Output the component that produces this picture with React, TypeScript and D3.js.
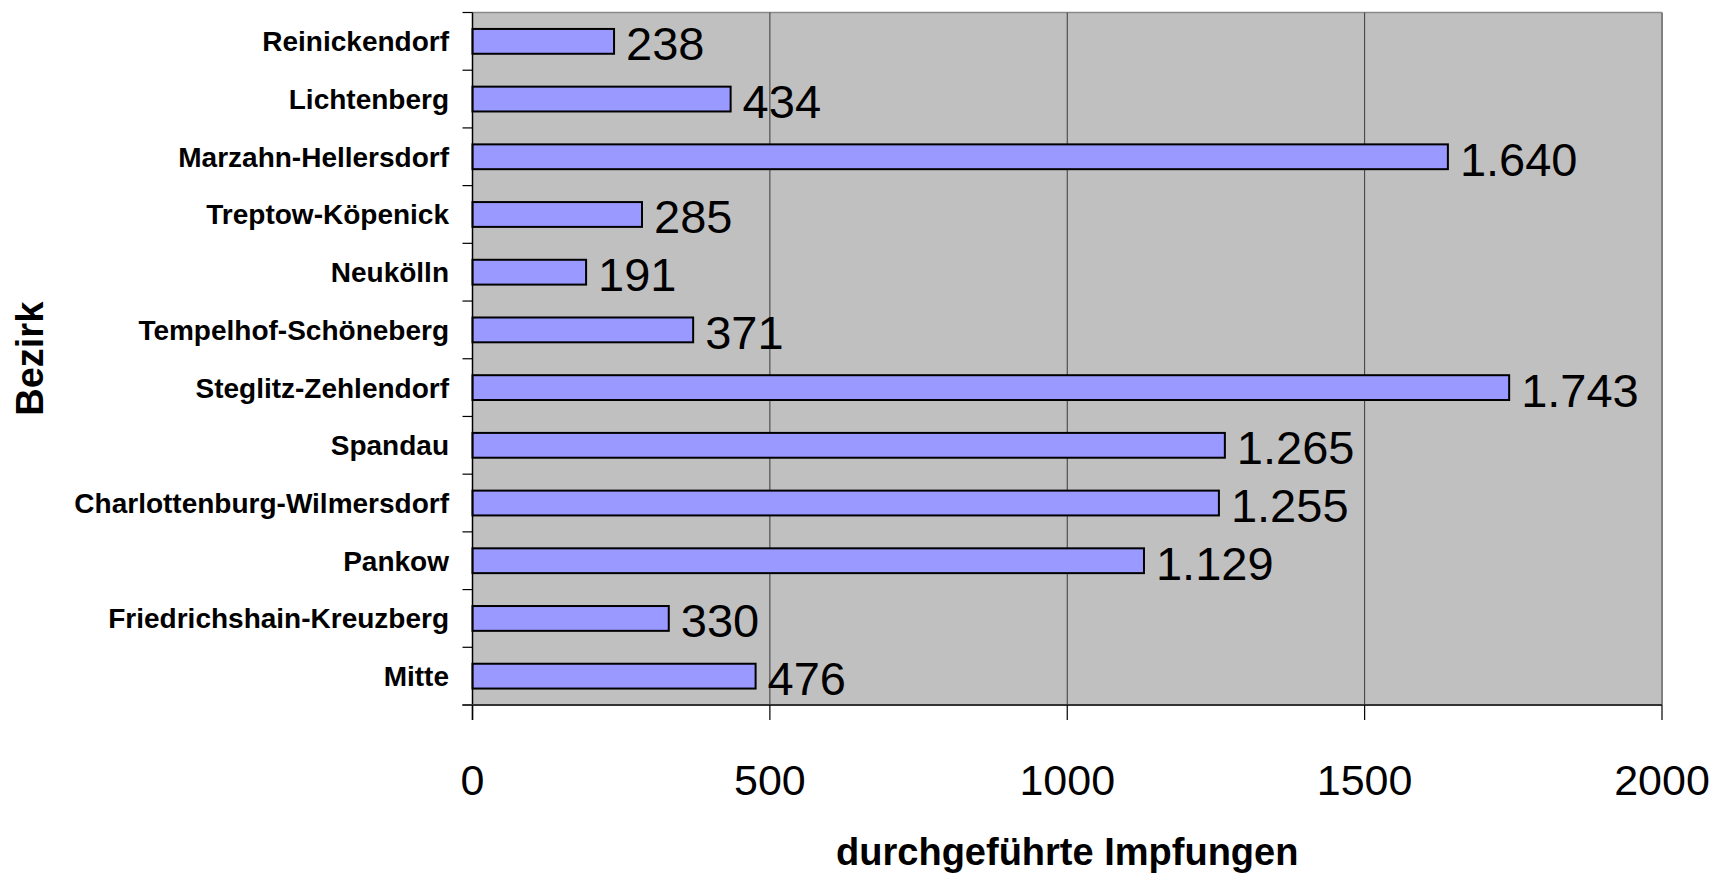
import React from "react";
import * as d3 from "d3";

const categories = [
  "Reinickendorf",
  "Lichtenberg",
  "Marzahn-Hellersdorf",
  "Treptow-Köpenick",
  "Neukölln",
  "Tempelhof-Schöneberg",
  "Steglitz-Zehlendorf",
  "Spandau",
  "Charlottenburg-Wilmersdorf",
  "Pankow",
  "Friedrichshain-Kreuzberg",
  "Mitte",
];
const values = [238, 434, 1640, 285, 191, 371, 1743, 1265, 1255, 1129, 330, 476];
const xTicks = [0, 500, 1000, 1500, 2000];
const xTitle = "durchgeführte Impfungen";
const yTitle = "Bezirk";

const W = 1715;
const H = 875;
const FONT = "'Liberation Sans', Arial, Helvetica, sans-serif";

const fmt = (v: number) => d3.format(",")(v).replace(/,/g, ".");

export default function App() {
  const left = 472.5;
  const right = 1662;
  const top = 12.5;
  const bottom = 705;

  const x = d3.scaleLinear().domain([0, 2000]).range([left, right]);
  const y = d3.scaleBand<string>().domain(categories).range([top, bottom]).padding(0);
  const bw = y.bandwidth();
  const barH = bw * 0.43;

  return (
    <svg
      width={W}
      height={H}
      style={{ position: "absolute", left: 0, top: 0, background: "#fff" }}
      fontFamily={FONT}
    >
      {/* plot area */}
      <rect x={left} y={top} width={right - left} height={bottom - top} fill="#C0C0C0" />
      {/* top border */}
      <line x1={left} x2={right} y1={top} y2={top} stroke="#8a8a8a" strokeWidth={1.5} />
      {/* right border */}
      <line x1={right} x2={right} y1={top} y2={bottom} stroke="#808080" strokeWidth={2} />
      {/* gridlines */}
      {xTicks
        .filter((t) => t > 0 && t < 2000)
        .map((t) => (
          <line key={"g" + t} x1={x(t)} x2={x(t)} y1={top} y2={bottom} stroke="#3a3a3a" strokeWidth={1} />
        ))}
      {/* bars */}
      {categories.map((c, i) => {
        const cy = (y(c) as number) + bw / 2;
        return (
          <g key={c}>
            <rect
              x={x(0)}
              y={cy - barH / 2}
              width={x(values[i]) - x(0)}
              height={barH}
              fill="#9999FF"
              stroke="#000"
              strokeWidth={2}
            />
            <text x={x(values[i]) + 12} y={cy + 19} fontSize={47} fill="#000">
              {fmt(values[i])}
            </text>
            <text
              x={449}
              y={cy + 10}
              fontSize={28}
              fontWeight="bold"
              textAnchor="end"
              fill="#000"
            >
              {c}
            </text>
          </g>
        );
      })}
      {/* y axis */}
      <line x1={left} x2={left} y1={top} y2={720} stroke="#000" strokeWidth={1.5} />
      {d3.range(categories.length + 1).map((i) => {
        const yy = top + i * bw;
        return <line key={"yt" + i} x1={462.5} x2={left} y1={yy} y2={yy} stroke="#000" strokeWidth={1.2} />;
      })}
      {/* x axis */}
      <line x1={462.5} x2={right} y1={bottom} y2={bottom} stroke="#333" strokeWidth={2} />
      {xTicks.map((t) => (
        <g key={"xt" + t}>
          <line x1={x(t)} x2={x(t)} y1={bottom} y2={720} stroke="#000" strokeWidth={1.2} />
          <text x={x(t)} y={795} fontSize={43} textAnchor="middle" fill="#000">
            {t}
          </text>
        </g>
      ))}
      {/* titles */}
      <text
        x={(left + right) / 2}
        y={865}
        fontSize={38}
        fontWeight="bold"
        textAnchor="middle"
        fill="#000"
      >
        {xTitle}
      </text>
      <text
        transform={`translate(43, ${(top + bottom) / 2}) rotate(-90)`}
        fontSize={38}
        fontWeight="bold"
        textAnchor="middle"
        fill="#000"
      >
        {yTitle}
      </text>
    </svg>
  );
}
